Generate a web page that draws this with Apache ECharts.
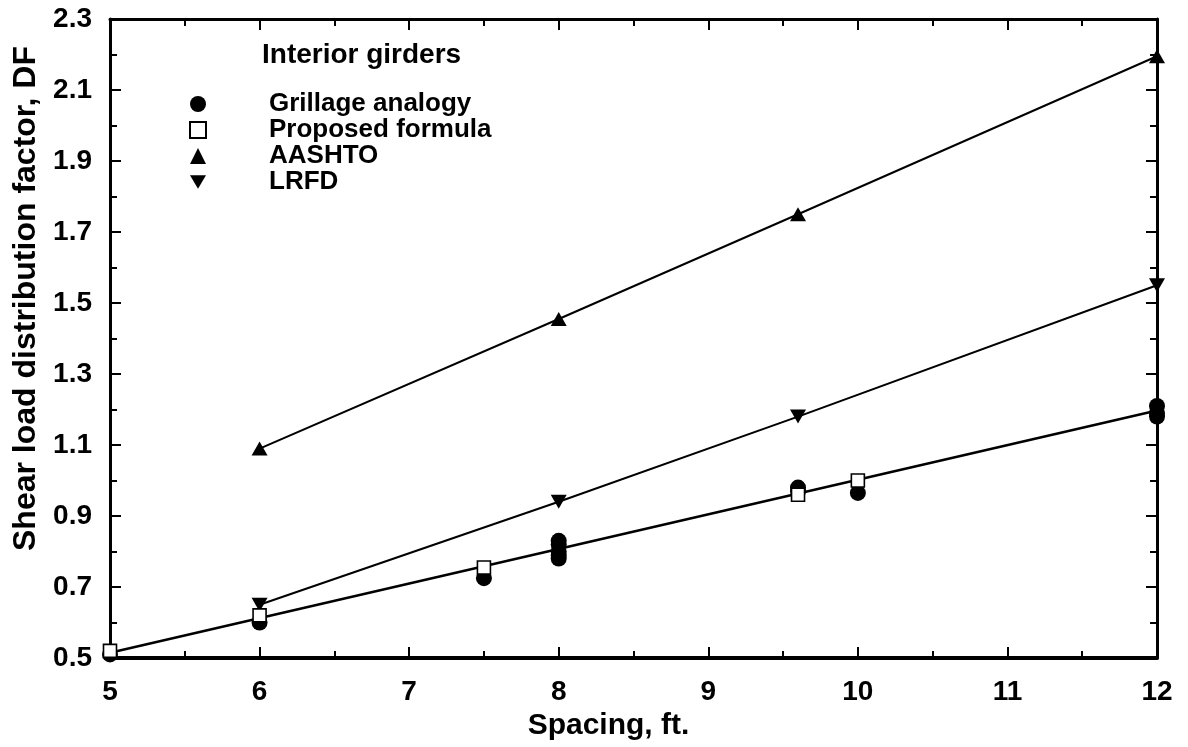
<!DOCTYPE html>
<html>
<head>
<meta charset="utf-8">
<script src="https://cdn.jsdelivr.net/npm/echarts@6/dist/echarts.min.js"></script>
<style>
html,body{margin:0;padding:0;background:#fff;}
#chart{width:1188px;height:747px;}
</style>
</head>
<body>
<div id="chart"></div>
<script>
// ---- data ----
const seriesNames = ['Grillage analogy', 'Proposed formula', 'AASHTO', 'LRFD'];
const legendTitle = 'Interior girders';
const xAxisName = 'Spacing, ft.';
const yAxisName = 'Shear load distribution factor, DF';

const grillageX = [5, 6, 7.5, 8, 8, 8, 8, 8, 9.6, 9.6, 10, 12, 12, 12];
const grillageY = [0.51, 0.60, 0.725, 0.78, 0.79, 0.80, 0.82, 0.83, 0.97, 0.98, 0.965, 1.18, 1.19, 1.21];

const proposedX = [5, 6, 7.5, 9.6, 10];
const proposedY = [0.52, 0.62, 0.755, 0.96, 1.0];

const aashtoX = [6, 8, 9.6, 12];
const aashtoY = [1.09, 1.455, 1.75, 2.195];

const lrfdX = [6, 8, 9.6, 12];
const lrfdY = [0.65, 0.94, 1.18, 1.55];

const proposedFitX = [5, 12];
const proposedFitY = [0.515, 1.197];

const xMin = 5, xMax = 12, xStep = 1;
const yMin = 0.5, yMax = 2.3, yStep = 0.2;

// ---- chart ----
const pair = (xs, ys) => xs.map((x, i) => [x, +(ys[i] - yMin).toFixed(4)]);
const FONT = 'Liberation Sans, Arial, Helvetica, sans-serif';
const black = '#000';
const downTri = 'path://M0,0L20,0L10,17Z';

const chart = echarts.init(document.getElementById('chart'), null, {renderer: 'canvas'});

const baseAxis = {
  axisLine: {show: true, onZero: false, lineStyle: {color: black, width: 3}},
  axisTick: {show: true, inside: true, length: 11, lineStyle: {color: black, width: 2}},
  minorTick: {show: true, splitNumber: 2, length: 7, lineStyle: {color: black, width: 2}},
  splitLine: {show: false},
  minorSplitLine: {show: false}
};
const labelStyle = {color: black, fontFamily: FONT, fontWeight: 'bold', fontSize: 28};
const nameStyle = {color: black, fontFamily: FONT, fontWeight: 'bold', fontSize: 30};

const option = {
  backgroundColor: '#fff',
  animation: false,
  title: {
    text: legendTitle,
    left: 257, top: 36,
    textStyle: {color: black, fontFamily: FONT, fontWeight: 'bold', fontSize: 28}
  },
  legend: {
    orient: 'vertical',
    left: 184, top: 86,
    itemWidth: 16, itemHeight: 16, itemGap: 0,
    data: [
      {name: seriesNames[0], icon: 'circle'},
      {name: seriesNames[1], icon: 'rect'},
      {name: seriesNames[2], icon: 'triangle'},
      {name: seriesNames[3], icon: downTri}
    ],
    textStyle: {color: black, fontFamily: FONT, fontWeight: 'bold', fontSize: 26, lineHeight: 26, padding: [0, 0, 0, 58]}
  },
  grid: {left: 110, right: 31, top: 19, bottom: 89, containLabel: false},
  xAxis: [
    Object.assign({}, baseAxis, {
      type: 'value', position: 'bottom', min: xMin, max: xMax, interval: xStep,
      axisLine: {show: true, onZero: false, lineStyle: {color: black, width: 4}},
      axisLabel: Object.assign({}, labelStyle, {margin: 20}),
      name: xAxisName, nameLocation: 'middle', nameGap: 50,
      nameTextStyle: Object.assign({}, nameStyle, {padding: [0, 50, 0, 0]})
    }),
    Object.assign({}, baseAxis, {
      type: 'value', position: 'top', min: xMin, max: xMax, interval: xStep,
      axisLabel: {show: false}
    })
  ],
  yAxis: [
    Object.assign({}, baseAxis, {
      type: 'value', position: 'left', min: 0, max: +(yMax - yMin).toFixed(4), interval: yStep,
      axisLabel: Object.assign({}, labelStyle, {margin: 18, formatter: v => (v + yMin).toFixed(1)}),
      name: yAxisName, nameLocation: 'middle', nameGap: 62,
      nameTextStyle: Object.assign({}, nameStyle, {fontSize: 32, padding: [0, 0, 0, 80]})
    }),
    Object.assign({}, baseAxis, {
      type: 'value', position: 'right', min: 0, max: +(yMax - yMin).toFixed(4), interval: yStep,
      axisLabel: {show: false}
    })
  ],
  series: [
    {type: 'line', data: pair(aashtoX, aashtoY), symbol: 'none', lineStyle: {color: black, width: 2}, z: 1, silent: true},
    {type: 'line', data: pair(lrfdX, lrfdY), symbol: 'none', lineStyle: {color: black, width: 2}, z: 1, silent: true},
    {type: 'line', data: pair(proposedFitX, proposedFitY), symbol: 'none', lineStyle: {color: black, width: 2.5}, z: 1, silent: true},
    {name: seriesNames[0], type: 'scatter', clip: true, data: pair(grillageX, grillageY), symbol: 'circle', symbolSize: 16,
      itemStyle: {color: black, opacity: 1}, z: 3},
    {name: seriesNames[1], type: 'scatter', clip: true, data: pair(proposedX, proposedY), symbol: 'rect', symbolSize: 13,
      itemStyle: {color: '#fff', borderColor: black, borderWidth: 1.6, opacity: 1}, z: 4},
    {name: seriesNames[2], type: 'scatter', clip: true, data: pair(aashtoX, aashtoY), symbol: 'triangle', symbolSize: [16, 14],
      itemStyle: {color: black, opacity: 1}, z: 3},
    {name: seriesNames[3], type: 'scatter', clip: true, data: pair(lrfdX, lrfdY), symbol: downTri, symbolSize: [16, 14],
      itemStyle: {color: black, opacity: 1}, z: 3}
  ]
};
chart.setOption(option);
</script>
</body>
</html>
